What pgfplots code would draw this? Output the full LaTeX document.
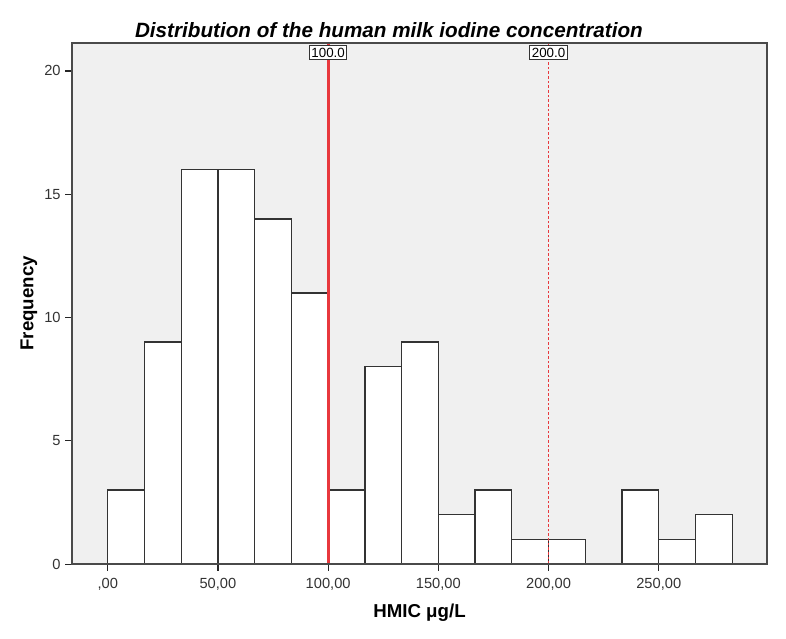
\documentclass[border=0pt]{standalone}
\usepackage{pgfplots}
\pgfplotsset{compat=1.18}
\usepackage{fontspec}
\setmainfont{Liberation Sans}
\definecolor{bg}{HTML}{F0F0F0}
\definecolor{framec}{HTML}{4A4A4A}
\definecolor{refred}{HTML}{E8383D}

\begin{document}
\begin{tikzpicture}
\useasboundingbox (-54pt,-55.5pt) rectangle (535.25pt,422.9pt);
\begin{axis}[
  at={(0,0)}, anchor=south west,
  scale only axis, width=521pt, height=391pt,
  xmin=-16.2, xmax=299.1, ymin=0, ymax=21.15,
  axis background/.style={fill=bg},
  axis line style={framec, line width=1.5pt},
  axis on top,
  xtick={0,50,100,150,200,250},
  xticklabels={{,00},{50,00},{100,00},{150,00},{200,00},{250,00}},
  ytick={0,5,10,15,20},
  tick align=outside, xtick pos=bottom, ytick pos=left,
  major tick length=5pt,
  tick style={black!85, line width=0.9pt},
  ticklabel style={font=\fontsize{11}{13}\selectfont, text=black!80},
  xticklabel style={yshift=-2pt},
  /pgf/number format/assume math mode=true,
  xlabel={HMIC μg/L}, ylabel={Frequency},
  label style={font=\fontsize{14}{16}\selectfont\bfseries},
  xlabel style={at={(axis description cs:0.5,-0.093)}, anchor=center},
  ylabel style={at={(axis description cs:-0.062,0.5)}, anchor=center},
  title={Distribution of the human milk iodine concentration},
  title style={font=\fontsize{15.5}{18}\selectfont\bfseries\itshape, at={(axis description cs:0.456,1.009)}, anchor=center},
  clip=false,
]
\addplot[ybar interval, fill=white, draw=black!80, line width=1pt] table {
x y
0 3
16.667 9
33.333 16
50 16
66.667 14
83.333 11
100 3
116.667 8
133.333 9
150 2
166.667 3
183.333 1
200 1
216.667 0
233.333 3
250 1
266.667 2
283.333 0
};
\addplot[refred, line width=2.2pt] coordinates {(100,0) (100,21.15)};
\addplot[refred, line width=0.6pt, dash pattern=on 2pt off 1.5pt] coordinates {(200,0) (200,21.15)};
\node[draw=black!80, line width=0.8pt, fill=white, inner xsep=1.5pt, inner ysep=2pt, anchor=north, yshift=-1.5pt, font=\fontsize{10}{12}\selectfont] at (axis cs:100,21.15) {100.0};
\node[draw=black!80, line width=0.8pt, fill=white, inner xsep=1.5pt, inner ysep=2pt, anchor=north, yshift=-1.5pt, font=\fontsize{10}{12}\selectfont] at (axis cs:200,21.15) {200.0};
\end{axis}
\end{tikzpicture}
\end{document}
